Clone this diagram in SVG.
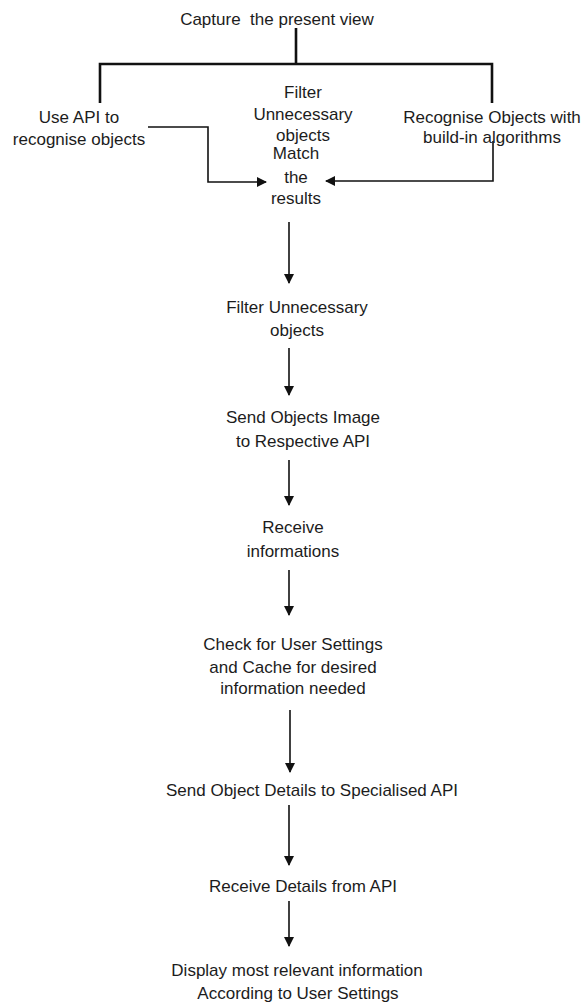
<svg xmlns="http://www.w3.org/2000/svg" width="582" height="1004" viewBox="0 0 582 1004">
<style>
text { font-family: "Liberation Sans", Arial, sans-serif; font-size: 17px; fill: #1c1c1c; text-anchor: middle; }
.c { fill: none; stroke: #111; stroke-width: 1.6; }
.t { fill: none; stroke: #111; stroke-width: 2.6; }
</style>
<defs>
<marker id="ah" viewBox="0 0 10 10" refX="9" refY="5" markerUnits="userSpaceOnUse" markerWidth="11" markerHeight="10" orient="auto">
<path d="M0,0 L10,5 L0,10 z" fill="#111"/>
</marker>
</defs>
<rect width="582" height="1004" fill="#fff"/>
<g id="connectors">
<path class="t" d="M296,28 V64"/>
<path class="t" d="M100,103 V64 H492 V103" stroke-width="3"/>
<path class="c" d="M148,127 H208 V182 H266" marker-end="url(#ah)"/>
<path class="c" d="M493,141 V181 H326" marker-end="url(#ah)"/>
<path class="c" d="M289,222 V283" marker-end="url(#ah)"/>
<path class="c" d="M289,348 V395" marker-end="url(#ah)"/>
<path class="c" d="M289,460 V505" marker-end="url(#ah)"/>
<path class="c" d="M289,570 V615" marker-end="url(#ah)"/>
<path class="c" d="M290,710 V772" marker-end="url(#ah)"/>
<path class="c" d="M289,805 V865" marker-end="url(#ah)"/>
<path class="c" d="M289,901 V946" marker-end="url(#ah)"/>
</g>
<g id="capture"><text x="277" y="25" xml:space="preserve">Capture  the present view</text></g>
<g id="use-api"><text x="79" y="123">Use API to</text><text x="79" y="145">recognise objects</text></g>
<g id="filter-top"><text x="303" y="98">Filter</text><text x="303" y="120">Unnecessary</text><text x="303" y="141">objects</text></g>
<g id="recognise-builtin"><text x="492" y="123">Recognise Objects with</text><text x="492" y="143">build-in algorithms</text></g>
<g id="match"><text x="296" y="159">Match</text><text x="296" y="183">the</text><text x="296" y="204">results</text></g>
<g id="filter"><text x="297" y="313">Filter Unnecessary</text><text x="297" y="336">objects</text></g>
<g id="send-image"><text x="303" y="423">Send Objects Image</text><text x="303" y="447">to Respective API</text></g>
<g id="receive-info"><text x="293" y="533">Receive</text><text x="293" y="557">informations</text></g>
<g id="check"><text x="293" y="650">Check for User Settings</text><text x="293" y="673">and Cache for desired</text><text x="293" y="694">information needed</text></g>
<g id="send-details"><text x="312" y="796">Send Object Details to Specialised API</text></g>
<g id="receive-details"><text x="303" y="892">Receive Details from API</text></g>
<g id="display"><text x="297" y="976">Display most relevant information</text><text x="298" y="999">According to User Settings</text></g>
</svg>
